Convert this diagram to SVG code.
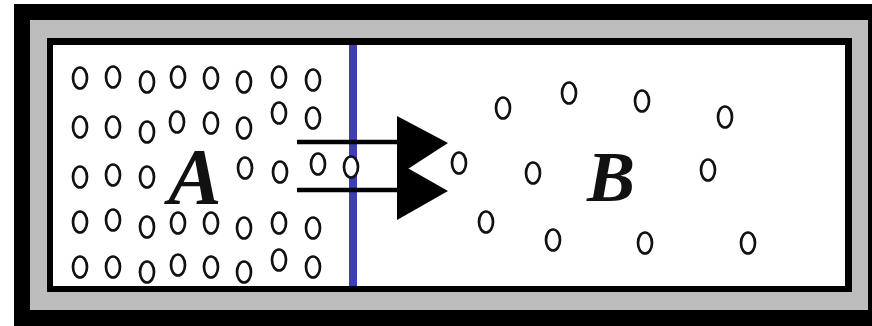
<svg xmlns="http://www.w3.org/2000/svg" width="872" height="326" viewBox="0 0 872 326">
<style>
.p{fill:none;stroke:#111;stroke-width:2.7}
.pw{fill:#fff;stroke:#111;stroke-width:2.7}
.lbl{font-family:"Liberation Serif","Times New Roman",serif;font-weight:bold;font-style:italic;fill:#111}
.shaft{stroke:#000;stroke-width:4.5}
</style>
<defs>
<ellipse id="o" class="p" rx="7" ry="10.5"/>
</defs>
<g id="frame">
<rect x="0" y="0" width="872" height="326" fill="#fff"/>
<rect x="14" y="4" width="858" height="322" fill="#000"/>
<rect x="30" y="20" width="838" height="290" fill="#bdbdbd"/>
<rect x="47" y="38" width="805" height="254" fill="#000"/>
<rect x="53" y="45" width="792" height="241" fill="#fff"/>
</g>
<g id="membrane">
<rect x="349" y="45" width="8" height="241" fill="#3f3fb4"/>
</g>
<g id="particles-A">
<use href="#o" x="80" y="78"/><use href="#o" x="113" y="77"/><use href="#o" x="147" y="82"/><use href="#o" x="178" y="77"/><use href="#o" x="211" y="78"/><use href="#o" x="244" y="82"/><use href="#o" x="279" y="77"/><use href="#o" x="313" y="80"/>
<use href="#o" x="80" y="127"/><use href="#o" x="113" y="127"/><use href="#o" x="147" y="132"/><use href="#o" x="177" y="122"/><use href="#o" x="211" y="123"/><use href="#o" x="244" y="128"/><use href="#o" x="279" y="113"/><use href="#o" x="313" y="118"/>
<use href="#o" x="80" y="177"/><use href="#o" x="113" y="175"/><use href="#o" x="147" y="177"/><use href="#o" x="245" y="168"/><use href="#o" x="280" y="172"/><use href="#o" x="318" y="164"/>
<use href="#o" x="80" y="222"/><use href="#o" x="113" y="220"/><use href="#o" x="147" y="227"/><use href="#o" x="178" y="223"/><use href="#o" x="211" y="223"/><use href="#o" x="244" y="228"/><use href="#o" x="279" y="223"/><use href="#o" x="313" y="228"/>
<use href="#o" x="80" y="267"/><use href="#o" x="113" y="267"/><use href="#o" x="147" y="272"/><use href="#o" x="178" y="265"/><use href="#o" x="211" y="267"/><use href="#o" x="244" y="272"/><use href="#o" x="279" y="260"/><use href="#o" x="313" y="267"/>
</g>
<g id="label-A">
<text class="lbl" x="195" y="204" font-size="80" text-anchor="middle">A</text>
</g>
<g id="connectors">
<line class="shaft" x1="297" y1="142" x2="400" y2="142"/>
<line class="shaft" x1="297" y1="190" x2="400" y2="190"/>
<polygon points="397,116 448,143 397,176" fill="#000"/>
<polygon points="397,162 448,191 397,220" fill="#000"/>
</g>
<g id="crossing-particle">
<ellipse class="pw" cx="351" cy="167" rx="7" ry="10.5"/>
</g>
<g id="particles-B">
<use href="#o" x="503" y="108"/><use href="#o" x="569" y="93"/><use href="#o" x="642" y="101"/><use href="#o" x="725" y="117"/>
<use href="#o" x="459" y="163"/><use href="#o" x="533" y="173"/><use href="#o" x="708" y="170"/>
<use href="#o" x="486" y="222"/><use href="#o" x="553" y="240"/><use href="#o" x="645" y="243"/><use href="#o" x="748" y="243"/>
</g>
<g id="label-B">
<text class="lbl" x="611" y="201" font-size="72" text-anchor="middle">B</text>
</g>
</svg>
